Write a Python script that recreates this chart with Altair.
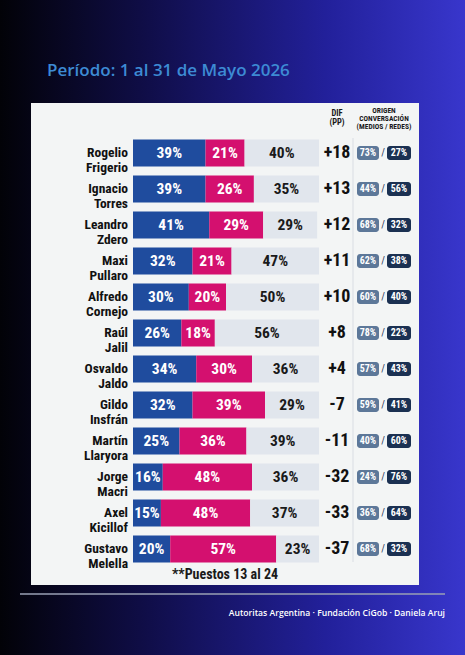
import altair as alt
import pandas as pd

# ---- data ----
names = ["Rogelio\nFrigerio", "Ignacio\nTorres", "Leandro\nZdero", "Maxi\nPullaro",
         "Alfredo\nCornejo", "Raúl\nJalil", "Osvaldo\nJaldo", "Gildo\nInsfrán",
         "Martín\nLlaryora", "Jorge\nMacri", "Axel\nKicillof", "Gustavo\nMelella"]
positivo = [39, 39, 41, 32, 30, 26, 34, 32, 25, 16, 15, 20]
negativo = [21, 26, 29, 21, 20, 18, 30, 39, 36, 48, 48, 57]
neutral = [40, 35, 29, 47, 50, 56, 36, 29, 39, 36, 37, 23]
dif = ["+18", "+13", "+12", "+11", "+10", "+8", "+4", "-7", "-11", "-32", "-33", "-37"]
medios = [73, 44, 68, 62, 60, 78, 57, 59, 40, 24, 36, 68]
redes = [27, 56, 32, 38, 40, 22, 43, 41, 60, 76, 64, 32]

title = "Período: 1 al 31 de Mayo 2026"
footnote = "**Puestos 13 al 24"
credits = "Autoritas Argentina · Fundación CiGob · Daniela Aruj"

BLUE = "#1f4c9e"
PINK = "#d4106f"
GRAY = "#e1e6ed"
COND = "'Liberation Sans Narrow', 'Roboto Condensed', 'Arial Narrow', Roboto, sans-serif"

rows = []
for i, n in enumerate(names):
    p, g, u = positivo[i], negativo[i], neutral[i]
    rows.append(dict(name=n, seg="pos", start=0, end=p, label=f"{p}%", mid=p / 2, color=BLUE, tc="white"))
    rows.append(dict(name=n, seg="neg", start=p, end=p + g, label=f"{g}%", mid=p + g / 2, color=PINK, tc="white"))
    rows.append(dict(name=n, seg="neu", start=p + g, end=p + g + u, label=f"{u}%", mid=p + g + u / 2, color=GRAY, tc="#1a1a1a"))
seg = pd.DataFrame(rows)

info = pd.DataFrame(dict(name=names, dif=dif,
                         medios=[f"{m}%" for m in medios],
                         redes=[f"{r}%" for r in redes]))

one = pd.DataFrame({"a": [0]})

yscale = alt.Scale(domain=names, range=[135, 567], paddingInner=0.25, paddingOuter=0.125)
xscale = alt.Scale(domain=[0, 100], range=[133, 319])
Y = alt.Y("name:N", scale=yscale, axis=None, sort=None)
YC = alt.Y("name:N", scale=yscale, axis=None, sort=None, bandPosition=0.5)

grad = alt.Gradient(
    gradient="linear",
    stops=[alt.GradientStop(color="#020207", offset=0),
           alt.GradientStop(color="#0f0d45", offset=0.3),
           alt.GradientStop(color="#22209a", offset=0.7),
           alt.GradientStop(color="#3836cc", offset=1)],
    x1=0, x2=1, y1=0, y2=0)

bg = alt.Chart(one).mark_rect(color=grad).encode(
    x=alt.value(0), x2=alt.value(465), y=alt.value(0), y2=alt.value(655))

panel = alt.Chart(one).mark_rect(color="#f3f5f5").encode(
    x=alt.value(31), x2=alt.value(419), y=alt.value(103), y2=alt.value(585))

sep = alt.Chart(one).mark_rule(color="#d9dde3", strokeWidth=1).encode(
    x=alt.value(353), y=alt.value(138), y2=alt.value(562))

footline = alt.Chart(one).mark_rule(color="#9aa0b4", strokeWidth=1.5).encode(
    x=alt.value(20), x2=alt.value(445), y=alt.value(594))

title_t = alt.Chart(one).mark_text(
    text=title, align="left", baseline="alphabetic", font="Open Sans", fontWeight=600,
    fontSize=17, color="#3d8bd4").encode(x=alt.value(47), y=alt.value(76))

credits_t = alt.Chart(one).mark_text(
    text=credits, align="right", baseline="alphabetic", font="Open Sans", fontWeight=600,
    fontSize=8.6, color="#ffffff").encode(x=alt.value(445), y=alt.value(616))

foot_t = alt.Chart(one).mark_text(
    text=footnote, align="center", baseline="middle", font=COND, fontWeight="bold",
    fontSize=14, color="#1a1a1a").encode(x=alt.value(225), y=alt.value(575))

hdr_dif = alt.Chart(one).mark_text(
    text=["DIF", "(PP)"], align="center", baseline="top", font=COND, fontWeight="bold",
    fontSize=8.5, lineHeight=8.5, color="#1a1a1a").encode(x=alt.value(337), y=alt.value(109))

hdr_or = alt.Chart(one).mark_text(
    text=["ORIGEN", "CONVERSACIÓN", "(MEDIOS / REDES)"], align="center", baseline="top",
    font=COND, fontWeight="bold", fontSize=7.5, lineHeight=8, color="#1a1a1a").encode(
    x=alt.value(384), y=alt.value(107))

bars = alt.Chart(seg).mark_bar().encode(
    x=alt.X("start:Q", scale=xscale, axis=None),
    x2="end:Q",
    y=Y,
    color=alt.Color("color:N", scale=None, legend=None))

bar_txt = alt.Chart(seg).mark_text(
    font=COND, fontWeight="bold", fontSize=15.5, baseline="middle", align="center").encode(
    x=alt.X("mid:Q", scale=xscale, axis=None),
    y=YC,
    text="label:N",
    color=alt.Color("tc:N", scale=None, legend=None))

name_txt = alt.Chart(info).mark_text(
    font=COND, fontWeight="bold", fontSize=13.5, lineHeight=14.5, lineBreak="\n",
    align="right", baseline="middle", color="#111111").encode(
    x=alt.value(128),
    y=YC,
    text="name:N")

dif_txt = alt.Chart(info).mark_text(
    font=COND, fontWeight="bold", fontSize=18, align="center", baseline="middle",
    color="#111111").encode(
    x=alt.value(337),
    y=YC,
    text="dif:N")

bm = alt.Chart(info).mark_rect(height=14, cornerRadius=3, color="#5d7899").encode(
    x=alt.value(357), x2=alt.value(379), y=Y)
br = alt.Chart(info).mark_rect(height=14, cornerRadius=3, color="#1b3152").encode(
    x=alt.value(387), x2=alt.value(411), y=Y)

bm_t = alt.Chart(info).mark_text(
    font=COND, fontWeight="bold", fontSize=10, align="center", baseline="middle",
    color="white").encode(
    x=alt.value(368),
    y=YC,
    text="medios:N")
br_t = alt.Chart(info).mark_text(
    font=COND, fontWeight="bold", fontSize=10, align="center", baseline="middle",
    color="white").encode(
    x=alt.value(399),
    y=YC,
    text="redes:N")
slash = alt.Chart(info).mark_text(
    text="/", font=COND, fontSize=10, align="center", baseline="middle",
    color="#1b3152").encode(
    x=alt.value(383),
    y=YC)

chart = alt.layer(
    bg, panel, sep, footline, title_t, credits_t, foot_t, hdr_dif, hdr_or,
    bars, bar_txt, name_txt, dif_txt, bm, br, bm_t, br_t, slash
).properties(
    width=465, height=655, padding=0, autosize=alt.AutoSizeParams(type="none")
).configure_view(stroke=None).configure(background="#000000")

chart.save("out.html", embed_options={"renderer": "svg", "actions": False})
